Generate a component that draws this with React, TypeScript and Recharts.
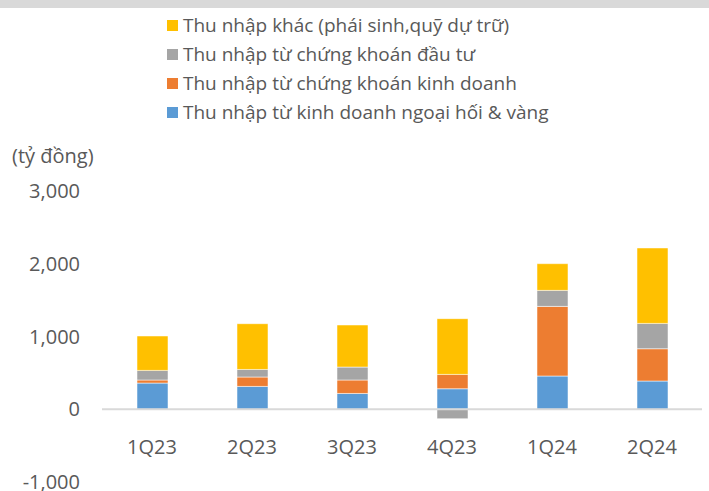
import { Bar, BarChart, ReferenceLine, XAxis, YAxis } from "recharts";

const quarters = ["1Q23", "2Q23", "3Q23", "4Q23", "1Q24", "2Q24"];
const fxGold = [360, 314, 217, 282, 457, 388];
const tradingSec = [42, 129, 185, 197, 957, 444];
const investSec = [132, 104, 178, -130, 220, 348];
const otherIncome = [473, 629, 578, 766, 367, 1037];
const yTicks = [-1000, 0, 1000, 2000, 3000];

const series = [
  { key: "fxGold", name: "Thu nhập từ kinh doanh ngoại hối & vàng", color: "#5B9BD5" },
  { key: "tradingSec", name: "Thu nhập từ chứng khoán kinh doanh", color: "#ED7D31" },
  { key: "investSec", name: "Thu nhập từ chứng khoán đầu tư", color: "#A5A5A5" },
  { key: "otherIncome", name: "Thu nhập khác (phái sinh,quỹ dự trữ)", color: "#FFC000" }
];

const data = quarters.map((q, i) => ({
  q,
  fxGold: fxGold[i],
  tradingSec: tradingSec[i],
  investSec: investSec[i],
  otherIncome: otherIncome[i]
}));

const font = "'Open Sans', 'Noto Sans', sans-serif";
const textColor = "#595959";

function QuarterTick({ x, y, payload }: any) {
  // labels sit just under the zero line, not at the bottom of the plot
  return (
    <text x={x} y={y - 41} textAnchor="middle" dominantBaseline="middle" fill={textColor} fontSize={20} fontFamily={font}>
      {payload.value}
    </text>
  );
}

function LegendList() {
  return (
    <div style={{ position: "absolute", left: 167, top: 11, fontSize: 19, color: textColor, lineHeight: "29px" }}>
      {[...series].reverse().map((s) => (
        <div key={s.key} style={{ display: "flex", alignItems: "center", height: 29 }}>
          <span style={{ width: 11, height: 11, background: s.color, marginRight: 5, display: "inline-block" }} />
          <span>{s.name}</span>
        </div>
      ))}
    </div>
  );
}

export default function App() {
  return (
    <div style={{ position: "absolute", left: 0, top: 0, width: 709, height: 491, background: "#fff", fontFamily: font }}>
      <div style={{ position: "absolute", left: 0, top: 0, width: 709, height: 8, background: "#d9d9d9" }} />
      <LegendList />
      <div style={{ position: "absolute", left: 12, top: 142, fontSize: 20, color: textColor }}>(tỷ đồng)</div>
      <div style={{ position: "absolute", left: 0, top: 0 }}>
        <BarChart
          width={709}
          height={491}
          data={data}
          stackOffset="sign"
          margin={{ top: 191, right: 7, bottom: 8, left: 0 }}
        >
          <XAxis dataKey="q" height={1} axisLine={false} tickLine={false} tick={<QuarterTick />} interval={0} />
          <YAxis
            width={102}
            domain={[-1000, 3000]}
            ticks={yTicks}
            interval={0}
            axisLine={false}
            tickLine={false}
            tickMargin={16}
            tick={{ fill: textColor, fontSize: 20, fontFamily: font }}
            tickFormatter={(v: number) => v.toLocaleString("en-US")}
          />
          {series.map((s) => (
            <Bar
              key={s.key}
              dataKey={s.key}
              name={s.name}
              stackId="a"
              fill={s.color}
              barSize={31}
              stroke="rgba(255,255,255,0.5)"
              strokeWidth={1}
              isAnimationActive={false}
            />
          ))}
          <ReferenceLine y={0} stroke="#d9d9d9" strokeWidth={2} />
        </BarChart>
      </div>
    </div>
  );
}
